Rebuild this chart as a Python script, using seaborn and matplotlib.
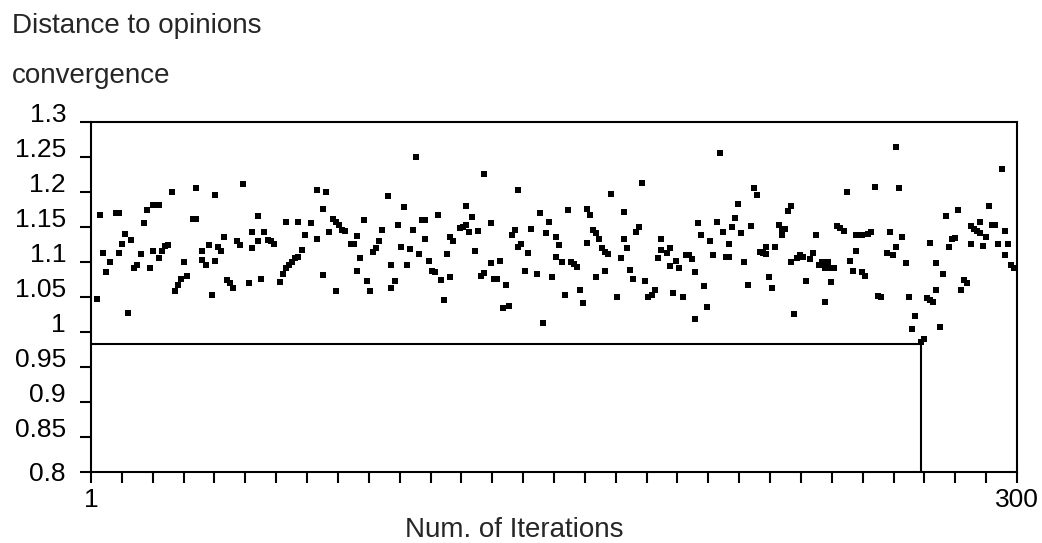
import matplotlib
matplotlib.use("Agg")
import matplotlib.pyplot as plt
import matplotlib.transforms as mtransforms
import numpy as np
import pandas as pd
import seaborn as sns

# values, one point per iteration (some gaps / overlaps)
iteration = [
    3, 4, 5, 6, 7, 9, 10, 10, 11, 12, 13, 14, 15, 16, 17, 18, 19, 20, 21, 21,
    23, 23, 24, 25, 26, 27, 28, 29, 30, 31, 32, 34, 35, 35, 37, 37,
    38, 39, 40, 41, 41, 42, 43, 44, 45, 46, 47, 48, 49, 50, 52, 53, 53, 55, 55,
    56, 57, 58, 59, 60, 62, 63, 64, 64, 65, 66, 67, 68, 68, 69, 70, 72, 74, 74,
    76, 76, 77, 78, 79, 80, 80, 81, 82, 83, 85, 86, 87, 87, 88, 89, 90, 91, 92,
    93, 94, 95, 97, 98, 98, 99, 100, 101, 102, 103, 104, 105, 106, 107, 108, 109,
    109, 110, 111,
    112, 113, 114, 115, 116, 117, 117, 118, 120, 121, 122, 122, 123, 124, 125,
    126, 127, 128, 128, 130, 130, 131, 132, 133, 134, 135, 136, 137, 138, 139,
    139, 140, 141, 142, 143, 145, 146, 147, 148, 149,
    150, 151, 151, 152, 153, 154, 155, 156, 157, 158, 159, 160, 161, 161, 162,
    163, 164, 164, 165, 166, 167, 167, 168, 169, 171, 172, 173, 173, 174, 175,
    176, 177, 178, 179, 180, 181, 182, 183, 184, 185, 185,
    187, 188, 188, 189, 190, 191, 192, 193, 194, 195, 196, 196, 197, 198, 199,
    200, 201, 202, 203, 204, 205, 206, 207, 207, 208, 209, 210, 211, 212, 213,
    214, 215, 216, 217, 218, 219, 219, 220, 221, 222,
    223, 224, 225, 224, 226, 227, 227, 228, 229, 230, 231, 232, 233, 234, 235,
    236, 237, 238, 238, 239, 240, 240, 241, 242, 243, 244, 245, 246, 247, 248,
    248, 250, 250, 251, 252, 253, 254, 255, 256, 258, 259, 260,
    261, 261, 262, 263, 264, 265, 266, 267, 269, 270, 271, 272, 272, 273, 274,
    274, 275, 276, 277, 278, 279, 280, 281, 282, 283, 284, 285, 285, 286, 287,
    288, 288, 289, 290, 291, 292, 293, 294, 295, 296, 296, 297, 298, 299,
]
distance = [
    1.047, 1.167, 1.112, 1.086, 1.099, 1.169, 1.169, 1.113, 1.126, 1.139, 1.027,
    1.131, 1.091, 1.095, 1.111, 1.156, 1.174, 1.091, 1.116, 1.181,
    1.181, 1.105, 1.115, 1.123, 1.124, 1.199, 1.058, 1.067, 1.075, 1.100, 1.079,
    1.161, 1.161, 1.206, 1.116, 1.102,
    1.096, 1.124, 1.053, 1.196, 1.101, 1.121, 1.115, 1.136, 1.074, 1.070, 1.062,
    1.129, 1.124, 1.211, 1.069, 1.119, 1.142, 1.129, 1.166,
    1.076, 1.143, 1.131, 1.129, 1.125, 1.071, 1.083, 1.157, 1.091, 1.096, 1.100,
    1.105, 1.107, 1.157, 1.117, 1.138, 1.155, 1.132, 1.202,
    1.176, 1.081, 1.199, 1.143, 1.161, 1.058, 1.157, 1.152, 1.145, 1.144, 1.125,
    1.125, 1.087, 1.137, 1.106, 1.160, 1.072, 1.058, 1.114,
    1.119, 1.129, 1.145, 1.194, 1.063, 1.096, 1.072, 1.152, 1.121, 1.178, 1.095,
    1.118, 1.145, 1.250, 1.111, 1.160, 1.160,
    1.133, 1.101, 1.087,
    1.086, 1.167, 1.074, 1.045, 1.111, 1.078, 1.136, 1.129, 1.148, 1.150, 1.153,
    1.179, 1.143, 1.164, 1.115,
    1.144, 1.079, 1.226, 1.084, 1.156, 1.098, 1.076, 1.075, 1.101, 1.034, 1.067,
    1.037, 1.138, 1.145, 1.121,
    1.202, 1.126, 1.087, 1.113, 1.147, 1.083, 1.169, 1.012, 1.141, 1.157,
    1.078, 1.135, 1.107, 1.124, 1.099, 1.053, 1.174, 1.099, 1.097, 1.093, 1.060,
    1.041, 1.127, 1.176, 1.167,
    1.145, 1.141, 1.078, 1.133, 1.119, 1.114, 1.087, 1.111, 1.197, 1.050, 1.105,
    1.132, 1.171, 1.119, 1.088,
    1.076, 1.143, 1.150, 1.213, 1.072, 1.049, 1.052, 1.059, 1.105, 1.117, 1.133,
    1.112, 1.119, 1.094, 1.056, 1.101, 1.091, 1.050, 1.110, 1.109, 1.104, 1.018,
    1.086, 1.156, 1.138, 1.065,
    1.036, 1.129, 1.110, 1.157, 1.256, 1.142, 1.107, 1.107, 1.125, 1.149, 1.163,
    1.183, 1.141, 1.099, 1.067,
    1.151, 1.205, 1.195, 1.114, 1.112, 1.111, 1.121, 1.078, 1.062, 1.121,
    1.152, 1.145, 1.147, 1.138, 1.172, 1.100, 1.179, 1.025, 1.106, 1.110, 1.107,
    1.072, 1.104, 1.113, 1.138,
    1.095, 1.100, 1.043, 1.091, 1.099, 1.091, 1.071, 1.091, 1.151, 1.148, 1.144,
    1.199, 1.101, 1.087, 1.116,
    1.138, 1.138, 1.086, 1.079, 1.139, 1.143, 1.207, 1.051, 1.050, 1.113, 1.142,
    1.110,
    1.121, 1.264, 1.206, 1.136, 1.098, 1.050, 1.004, 1.023, 0.985, 0.990, 1.048,
    1.127, 1.045, 1.042, 1.098,
    1.059, 1.007, 1.083, 1.165, 1.121, 1.133, 1.134, 1.174, 1.059, 1.074, 1.069,
    1.125, 1.151, 1.147, 1.144,
    1.141, 1.157, 1.123, 1.136, 1.179, 1.153, 1.152, 1.125, 1.232, 1.144, 1.109,
    1.126, 1.095, 1.091,
]

threshold = 0.982
threshold_iteration = 269
y_ticks = [0.8, 0.85, 0.9, 0.95, 1.0, 1.05, 1.1, 1.15, 1.2, 1.25, 1.3]
y_tick_labels = ["0.8", "0.85", "0.9", "0.95", "1", "1.05", "1.1", "1.15",
                 "1.2", "1.25", "1.3"]

sns.set_style("ticks")
plt.rcParams["font.family"] = ["Liberation Sans", "DejaVu Sans"]

W, H = 1042, 543
fig = plt.figure(figsize=(W / 100, H / 100), dpi=100)
ax = fig.add_axes([91 / W, 1 - 471.7 / H, (1017 - 91) / W, 350 / H])

df = pd.DataFrame({"iteration": iteration, "distance": distance})
sns.scatterplot(data=df, x="iteration", y="distance", marker="s",
                color="black", s=17, linewidth=0, ax=ax, legend=False)

ax.plot([1, threshold_iteration], [threshold, threshold], color="black", lw=1.5)
ax.plot([threshold_iteration, threshold_iteration], [0.8, threshold],
        color="black", lw=1.5)

ax.set_xlim(1, 300)
ax.set_ylim(0.8, 1.3)
x_ticks = np.linspace(1, 300, 31)
x_labels = [""] * len(x_ticks)
x_labels[0], x_labels[-1] = "1", "300"
ax.set_xticks(x_ticks)
ax.set_xticklabels(x_labels)
ax.set_yticks(y_ticks)
ax.set_yticklabels(y_tick_labels)
ax.tick_params(axis="both", direction="out", length=8, width=1.5,
               labelsize=19, color="black", labelcolor="black")
ax.tick_params(axis="y", pad=10)
ax.tick_params(axis="x", pad=4)
for spine in ax.spines.values():
    spine.set_visible(True)
    spine.set_linewidth(1.5)
    spine.set_color("black")
ax.set_xlabel("")
ax.set_ylabel("")

# tick labels of the original sit a bit above their ticks
shift = mtransforms.ScaledTranslation(0, 9 / 100, fig.dpi_scale_trans)
for lab in ax.get_yticklabels()[1:]:
    lab.set_transform(lab.get_transform() + shift)

fig.text(12 / W, 1 - 33.3 / H, "Distance to opinions", fontsize=20, va="baseline")
fig.text(12 / W, 1 - 83.3 / H, "convergence", fontsize=20, va="baseline")
fig.text(405 / W, 1 - 537 / H, "Num. of Iterations", fontsize=20, va="baseline")

fig.savefig("out.png", dpi=100)
